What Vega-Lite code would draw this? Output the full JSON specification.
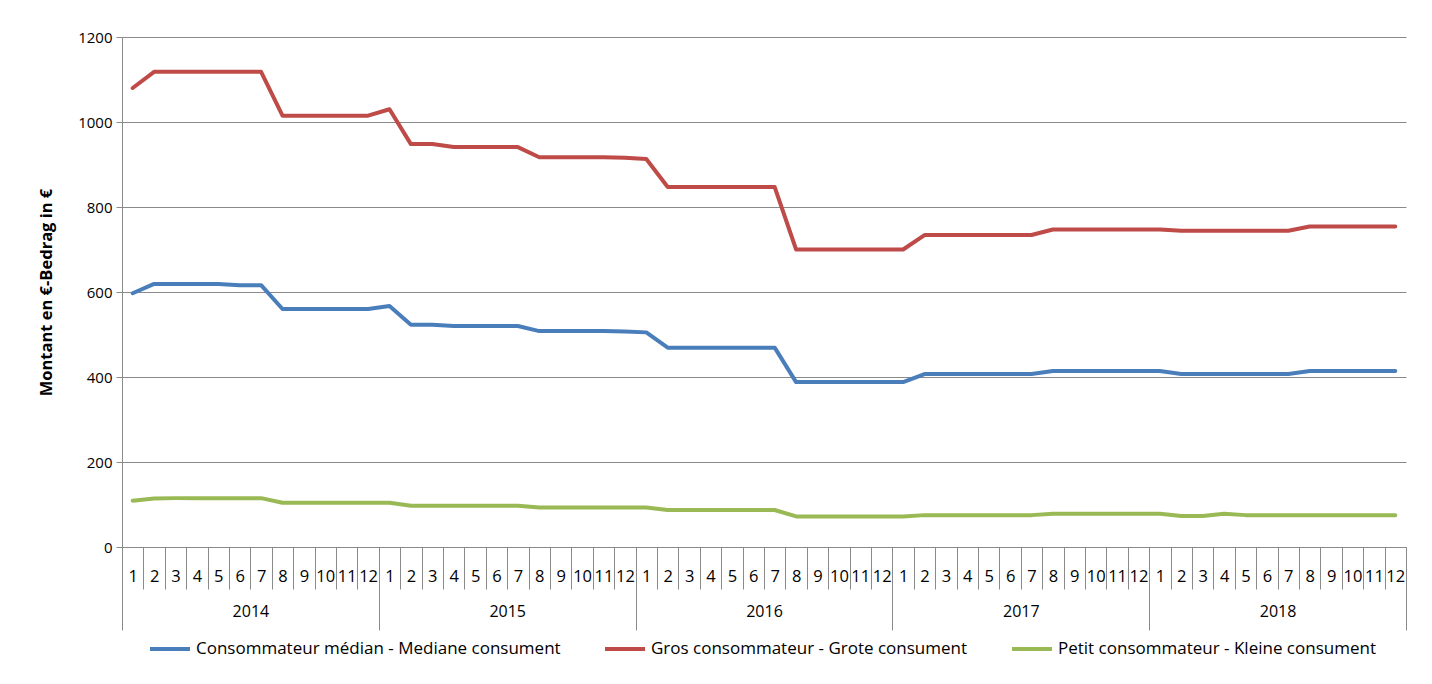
{
  "$schema": "https://vega.github.io/schema/vega-lite/v6.json",
  "width": 1284,
  "height": 510,
  "autosize": {"type": "none"},
  "padding": {"left": 122, "top": 37, "right": 26, "bottom": 137},
  "background": "white",
  "config": {"view": {"stroke": null}, "font": "Open Sans"},
  "data": {"values": [
    {"t":0,"med":597,"gros":1080,"petit":109},
    {"t":1,"med":619,"gros":1118,"petit":114},
    {"t":2,"med":619,"gros":1118,"petit":115},
    {"t":3,"med":619,"gros":1118,"petit":115},
    {"t":4,"med":619,"gros":1118,"petit":115},
    {"t":5,"med":616,"gros":1118,"petit":115},
    {"t":6,"med":616,"gros":1118,"petit":115},
    {"t":7,"med":560,"gros":1015,"petit":104},
    {"t":8,"med":560,"gros":1015,"petit":104},
    {"t":9,"med":560,"gros":1015,"petit":104},
    {"t":10,"med":560,"gros":1015,"petit":104},
    {"t":11,"med":560,"gros":1015,"petit":104},
    {"t":12,"med":567,"gros":1030,"petit":104},
    {"t":13,"med":523,"gros":948,"petit":97},
    {"t":14,"med":523,"gros":948,"petit":97},
    {"t":15,"med":520,"gros":941,"petit":97},
    {"t":16,"med":520,"gros":941,"petit":97},
    {"t":17,"med":520,"gros":941,"petit":97},
    {"t":18,"med":520,"gros":941,"petit":97},
    {"t":19,"med":508,"gros":917,"petit":93},
    {"t":20,"med":508,"gros":917,"petit":93},
    {"t":21,"med":508,"gros":917,"petit":93},
    {"t":22,"med":508,"gros":917,"petit":93},
    {"t":23,"med":507,"gros":916,"petit":93},
    {"t":24,"med":505,"gros":913,"petit":93},
    {"t":25,"med":469,"gros":847,"petit":87},
    {"t":26,"med":469,"gros":847,"petit":87},
    {"t":27,"med":469,"gros":847,"petit":87},
    {"t":28,"med":469,"gros":847,"petit":87},
    {"t":29,"med":469,"gros":847,"petit":87},
    {"t":30,"med":469,"gros":847,"petit":87},
    {"t":31,"med":388,"gros":700,"petit":72},
    {"t":32,"med":388,"gros":700,"petit":72},
    {"t":33,"med":388,"gros":700,"petit":72},
    {"t":34,"med":388,"gros":700,"petit":72},
    {"t":35,"med":388,"gros":700,"petit":72},
    {"t":36,"med":388,"gros":700,"petit":72},
    {"t":37,"med":407,"gros":734,"petit":75},
    {"t":38,"med":407,"gros":734,"petit":75},
    {"t":39,"med":407,"gros":734,"petit":75},
    {"t":40,"med":407,"gros":734,"petit":75},
    {"t":41,"med":407,"gros":734,"petit":75},
    {"t":42,"med":407,"gros":734,"petit":75},
    {"t":43,"med":414,"gros":747,"petit":78},
    {"t":44,"med":414,"gros":747,"petit":78},
    {"t":45,"med":414,"gros":747,"petit":78},
    {"t":46,"med":414,"gros":747,"petit":78},
    {"t":47,"med":414,"gros":747,"petit":78},
    {"t":48,"med":414,"gros":747,"petit":78},
    {"t":49,"med":407,"gros":744,"petit":73},
    {"t":50,"med":407,"gros":744,"petit":73},
    {"t":51,"med":407,"gros":744,"petit":78},
    {"t":52,"med":407,"gros":744,"petit":75},
    {"t":53,"med":407,"gros":744,"petit":75},
    {"t":54,"med":407,"gros":744,"petit":75},
    {"t":55,"med":414,"gros":754,"petit":75},
    {"t":56,"med":414,"gros":754,"petit":75},
    {"t":57,"med":414,"gros":754,"petit":75},
    {"t":58,"med":414,"gros":754,"petit":75},
    {"t":59,"med":414,"gros":754,"petit":75}
  ]},
  "transform": [{"fold": ["med", "gros", "petit"], "as": ["serie", "value"]}],
  "layer": [
    {
      "mark": {"type": "line", "strokeWidth": 4, "strokeCap": "round", "strokeJoin": "round"},
      "encoding": {
        "x": {
          "field": "t", "type": "quantitative",
          "scale": {"domain": [-0.5, 59.5], "nice": false, "zero": false},
          "axis": {
            "orient": "bottom",
            "values": [-0.5,0.5,1.5,2.5,3.5,4.5,5.5,6.5,7.5,8.5,9.5,10.5,11.5,12.5,13.5,14.5,15.5,16.5,17.5,18.5,19.5,20.5,21.5,22.5,23.5,24.5,25.5,26.5,27.5,28.5,29.5,30.5,31.5,32.5,33.5,34.5,35.5,36.5,37.5,38.5,39.5,40.5,41.5,42.5,43.5,44.5,45.5,46.5,47.5,48.5,49.5,50.5,51.5,52.5,53.5,54.5,55.5,56.5,57.5,58.5,59.5],
            "labels": false, "ticks": true, "tickSize": 42, "tickColor": "#8a8a8a", "tickWidth": 1,
            "domain": true, "domainColor": "#8a8a8a", "domainWidth": 1, "grid": false, "title": null
          }
        },
        "y": {
          "field": "value", "type": "quantitative",
          "scale": {"domain": [0, 1200], "nice": false},
          "axis": {
            "values": [0, 200, 400, 600, 800, 1000, 1200],
            "format": "d",
            "grid": true, "gridColor": "#8a8a8a", "gridWidth": 1,
            "domainColor": "#8a8a8a", "tickColor": "#8a8a8a", "tickSize": 6,
            "labelFontSize": 15, "labelColor": "#000000", "labelPadding": 4,
            "title": "Montant en €-Bedrag in €", "titleFontSize": 16.5, "titleFontWeight": "bold",
            "titleColor": "#000000", "titlePadding": 23
          }
        },
        "color": {
          "field": "serie", "type": "nominal",
          "scale": {"domain": ["med", "gros", "petit"], "range": ["#4a7ebb", "#be4b48", "#98b954"]},
          "legend": {
            "orient": "none", "legendX": 26, "legendY": 590, "direction": "horizontal",
            "title": null, "symbolType": "stroke", "symbolSize": 1600, "symbolStrokeWidth": 4,
            "labelFontSize": 17, "labelColor": "#000000", "labelOffset": 4, "columnPadding": 36,
            "labelLimit": 0,
            "labelExpr": "datum.label == 'med' ? 'Consommateur médian - Mediane consument' : datum.label == 'gros' ? 'Gros consommateur - Grote consument' : 'Petit consommateur - Kleine consument'"
          }
        }
      }
    },
    {
      "mark": {"type": "point", "opacity": 0},
      "encoding": {
        "x": {
          "field": "t", "type": "quantitative",
          "scale": {"domain": [-0.5, 59.5], "nice": false, "zero": false},
          "axis": {
            "orient": "bottom",
            "values": [0,1,2,3,4,5,6,7,8,9,10,11,12,13,14,15,16,17,18,19,20,21,22,23,24,25,26,27,28,29,30,31,32,33,34,35,36,37,38,39,40,41,42,43,44,45,46,47,48,49,50,51,52,53,54,55,56,57,58,59],
            "labelExpr": "(datum.value % 12) + 1",
            "ticks": false, "domain": false, "grid": false, "title": null,
            "labelOverlap": false, "labelFlush": false, "labelBound": false,
            "labelFontSize": 16.5, "labelColor": "#000000", "labelPadding": 21
          }
        }
      }
    },
    {
      "mark": {"type": "point", "opacity": 0},
      "encoding": {
        "x": {
          "field": "t", "type": "quantitative",
          "scale": {"domain": [-0.5, 59.5], "nice": false, "zero": false},
          "axis": {
            "orient": "bottom",
            "values": [-0.5, 11.5, 23.5, 35.5, 47.5, 59.5],
            "labels": false, "ticks": true, "tickSize": 83, "tickColor": "#8a8a8a",
            "domain": false, "grid": false, "title": null
          }
        }
      }
    },
    {
      "mark": {"type": "point", "opacity": 0},
      "encoding": {
        "x": {
          "field": "t", "type": "quantitative",
          "scale": {"domain": [-0.5, 59.5], "nice": false, "zero": false},
          "axis": {
            "orient": "bottom",
            "values": [5.5, 17.5, 29.5, 41.5, 53.5],
            "labelExpr": "'' + (2014 + floor(datum.value / 12))",
            "ticks": false, "domain": false, "grid": false, "title": null,
            "labelOverlap": false, "labelFlush": false,
            "labelFontSize": 16, "labelColor": "#000000", "labelPadding": 56
          }
        }
      }
    }
  ],
  "resolve": {"axis": {"x": "independent"}}
}
